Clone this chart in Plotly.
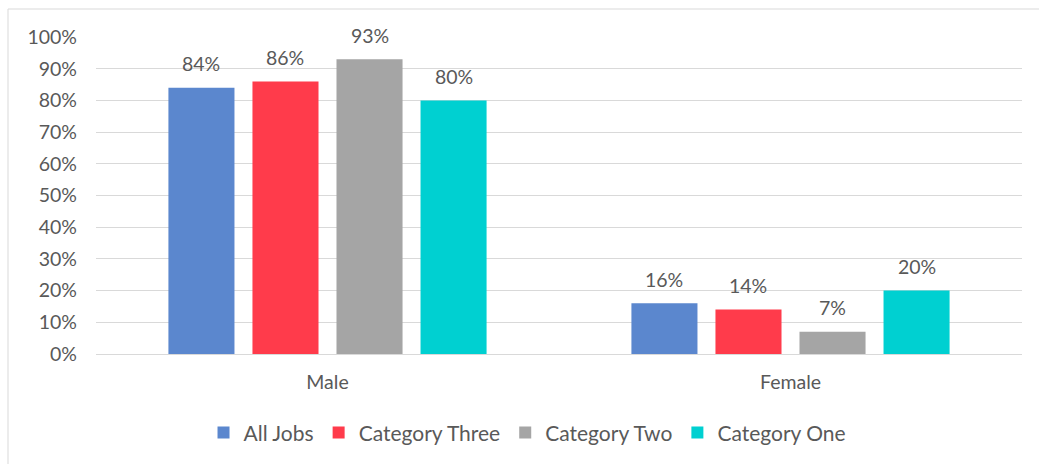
import plotly.graph_objects as go

# Share of each gender by job category (percent)
genders = ["Male", "Female"]
series_names = ["All Jobs", "Category Three", "Category Two", "Category One"]
all_jobs = [84, 16]
category_three = [86, 14]
category_two = [93, 7]
category_one = [80, 20]
y_tick_values = [0, 10, 20, 30, 40, 50, 60, 70, 80, 90, 100]
y_tick_labels = ["0%", "10%", "20%", "30%", "40%", "50%", "60%", "70%", "80%", "90%", "100%"]

series_values = [all_jobs, category_three, category_two, category_one]
colors = ["#5B87CE", "#FF3B4B", "#A5A5A5", "#00D0D1"]

FONT = "Lato, Carlito, 'Liberation Sans', sans-serif"
TEXT_COLOR = "#595959"
GRID = "#D9D9D9"
FONT_SIZE = 19.5
LEGEND_FONT_SIZE = 21

W, H = 1039, 464
M_L, M_R, M_T, M_B = 96, 17, 37, 109
BARGAP = 0.274
BARGROUPGAP = 0.214

fig = go.Figure()
for name, vals, col in zip(series_names, series_values, colors):
    fig.add_trace(go.Bar(
        name=name, x=genders, y=vals, marker=dict(color=col, line=dict(width=0)),
        hoverinfo="skip",
    ))

# value labels sit above each bar, shifted to its slot within the group
plot_w = W - M_L - M_R
slot_px = plot_w / len(genders) * (1 - BARGAP) / len(series_names)
annotations = []
for i, vals in enumerate(series_values):
    for g, v in zip(genders, vals):
        annotations.append(dict(
            x=g, y=v, xref="x", yref="y", text=f"{v}%", showarrow=False,
            xshift=(i - (len(series_names) - 1) / 2) * slot_px, yshift=24,
            font=dict(family=FONT, size=FONT_SIZE, color=TEXT_COLOR),
        ))

fig.update_layout(
    width=W, height=H,
    margin=dict(l=M_L, r=M_R, t=M_T, b=M_B),
    paper_bgcolor="white", plot_bgcolor="white",
    barmode="group", bargap=BARGAP, bargroupgap=BARGROUPGAP,
    font=dict(family=FONT, size=FONT_SIZE, color=TEXT_COLOR),
    annotations=annotations,
    showlegend=True,
    legend=dict(
        orientation="h", x=0.466, xanchor="center", y=-0.245, yanchor="middle",
        font=dict(family=FONT, size=LEGEND_FONT_SIZE, color=TEXT_COLOR),
        bgcolor="rgba(0,0,0,0)",
    ),
    shapes=[dict(
        type="rect", xref="paper", yref="paper",
        xsizemode="pixel", ysizemode="pixel", xanchor=0, yanchor=1,
        x0=-88, x1=1100, y0=28, y1=-600,
        line=dict(color=GRID, width=1), fillcolor="rgba(0,0,0,0)", layer="below",
    )],
)

fig.update_xaxes(
    showgrid=False, showline=False, ticks="", ticklabelstandoff=14,
    tickfont=dict(family=FONT, size=FONT_SIZE, color=TEXT_COLOR),
)
fig.update_yaxes(
    range=[0, 100], tickmode="array", tickvals=y_tick_values, ticktext=y_tick_labels,
    showgrid=True, gridcolor=GRID, gridwidth=1,
    zeroline=True, zerolinecolor=GRID, zerolinewidth=1,
    showline=False, ticks="", ticklabelstandoff=18,
    tickfont=dict(family=FONT, size=FONT_SIZE, color=TEXT_COLOR),
)

fig.write_html("out.html", config=dict(displayModeBar=False))
